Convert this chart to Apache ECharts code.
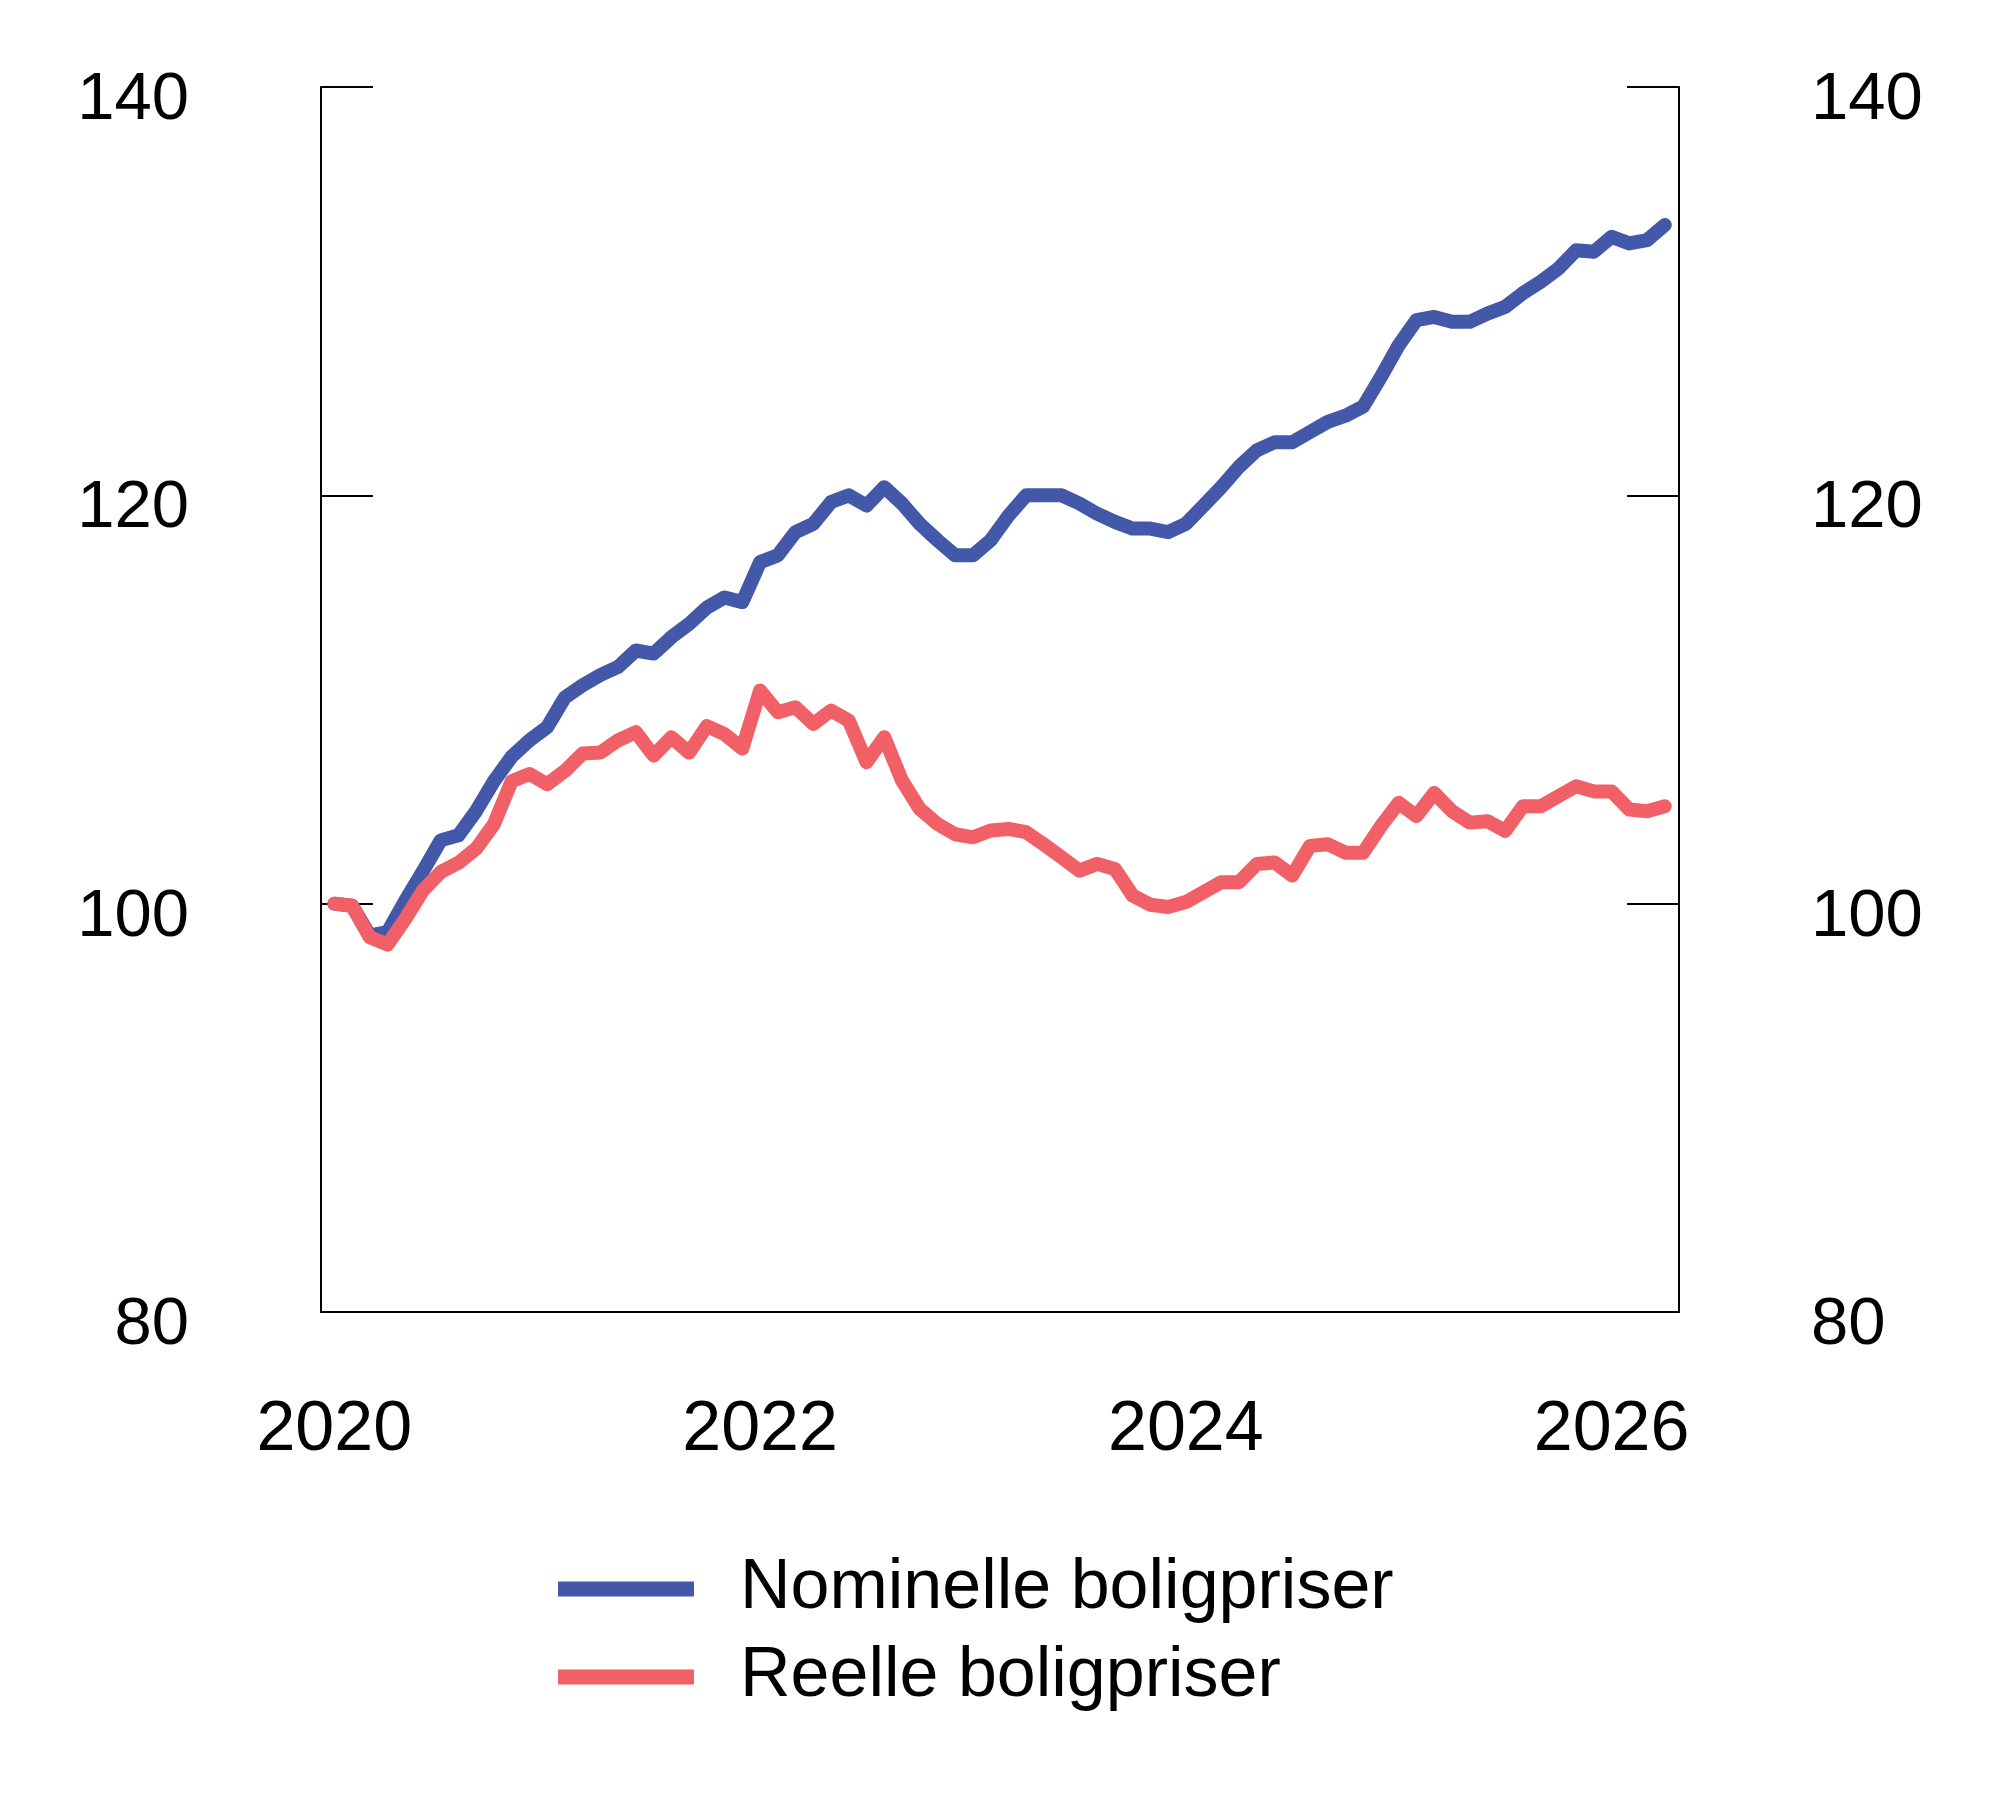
<!DOCTYPE html>
<html lang="no">
<head>
    <meta charset="utf-8">
    <title>Boligpriser</title>
    <script src="https://cdn.jsdelivr.net/npm/echarts@6/dist/echarts.min.js"></script>
    <style type="text/css">
        html, body {
            width: 100%;
            height: 100%;
            margin: 0px;
            padding: 0px;
            background: #ffffff;
        }

        #main {
            width: 2000px;
            height: 1816px;
        }
    </style>
</head>
<body>
<div id="main"></div>
<script>
    // monthly index, Jan 2020 = 0 ... Apr 2026 = 75
    var startYear = 2020;
    var yearTicks = [0, 24, 48, 72];

    var nominelle = [
        100.0, 99.9, 98.45, 98.6, 100.15, 101.6, 103.1, 103.35, 104.55, 106.0, 107.2, 108.0,
        108.65, 110.1, 110.7, 111.2, 111.6, 112.4, 112.25, 113.05, 113.7, 114.5, 115.0, 114.77,
        116.73, 117.06, 118.2, 118.6, 119.67, 120.0, 119.5, 120.4, 119.6, 118.6, 117.8, 117.06,
        117.06, 117.8, 119.0, 120.0, 120.0, 120.0, 119.6, 119.1, 118.7, 118.37, 118.37, 118.2,
        118.6, 119.5, 120.4, 121.4, 122.2, 122.6, 122.6, 123.1, 123.6, 123.9, 124.35, 125.8,
        127.35, 128.58, 128.74, 128.5, 128.5, 128.9, 129.23, 129.9, 130.46, 131.1, 132.0, 131.93,
        132.66, 132.34, 132.5, 133.24
    ];

    var reelle = [
        100.0, 99.9, 98.35, 98.0, 99.25, 100.65, 101.55, 102.0, 102.7, 103.9, 106.0, 106.35,
        105.85, 106.5, 107.35, 107.4, 108.0, 108.4, 107.25, 108.15, 107.4, 108.7, 108.3, 107.6,
        110.44, 109.38, 109.62, 108.8, 109.46, 108.97, 106.93, 108.15, 106.03, 104.64, 103.9, 103.4,
        103.25, 103.58, 103.66, 103.5, 102.9, 102.27, 101.62, 101.95, 101.7, 100.4, 99.95, 99.84,
        100.08, 100.57, 101.05, 101.05, 101.94, 102.02, 101.38, 102.83, 102.91, 102.5, 102.5, 103.8,
        104.94, 104.29, 105.42, 104.53, 103.97, 104.04, 103.56, 104.77, 104.77, 105.26, 105.75, 105.5,
        105.5, 104.61, 104.53, 104.77
    ];

    var seriesNames = ['Nominelle boligpriser', 'Reelle boligpriser'];
    var seriesColors = ['#4358a8', '#f06066'];

    function toPairs(arr) {
        return arr.map(function (v, i) { return [i, v]; });
    }

    var fontFam = '"Liberation Sans", Arial, Helvetica, sans-serif';

    function yAxisOpt(pos) {
        return {
            type: 'value',
            position: pos,
            min: 80,
            max: 140,
            interval: 20,
            splitLine: { show: false },
            axisLine: { show: true, onZero: false, lineStyle: { color: '#000', width: 2 } },
            axisTick: { show: true, inside: true, length: 52, lineStyle: { color: '#000', width: 2 } },
            axisLabel: {
                margin: 132,
                color: '#000',
                formatter: function (v) { return '{v|' + v + '}'; },
                rich: {
                    v: {
                        fontSize: 67,
                        color: '#000',
                        fontFamily: fontFam,
                        padding: [27, 0, 0, 0]
                    }
                }
            }
        };
    }

    var myChart = echarts.init(document.getElementById('main'));
    myChart.setOption({
        animation: false,
        backgroundColor: '#fff',
        grid: { left: 321, right: 321, top: 87, bottom: 504 },
        legend: {
            orient: 'vertical',
            left: 553,
            top: 1549,
            icon: 'rect',
            itemWidth: 136,
            itemHeight: 15,
            itemGap: 18,
            data: seriesNames,
            textStyle: {
                fontSize: 70,
                lineHeight: 70,
                color: '#000',
                fontFamily: fontFam,
                padding: [0, 0, 0, 41]
            }
        },
        xAxis: {
            type: 'value',
            min: -0.75,
            max: 75.8,
            splitLine: { show: false },
            axisLine: { show: true, onZero: false, lineStyle: { color: '#000', width: 2 } },
            axisTick: { show: false },
            axisLabel: {
                customValues: yearTicks,
                margin: 84,
                fontSize: 70,
                color: '#000',
                fontFamily: fontFam,
                formatter: function (v) { return String(startYear + Math.round(v / 12)); }
            }
        },
        yAxis: [yAxisOpt('left'), yAxisOpt('right')],
        series: [
            {
                name: seriesNames[0],
                type: 'line',
                data: toPairs(nominelle),
                showSymbol: false,
                symbol: 'none',
                color: seriesColors[0],
                lineStyle: { width: 14, color: seriesColors[0], cap: 'round', join: 'round' }
            },
            {
                name: seriesNames[1],
                type: 'line',
                data: toPairs(reelle),
                showSymbol: false,
                symbol: 'none',
                color: seriesColors[1],
                lineStyle: { width: 14, color: seriesColors[1], cap: 'round', join: 'round' }
            }
        ]
    });
</script>
</body>
</html>
